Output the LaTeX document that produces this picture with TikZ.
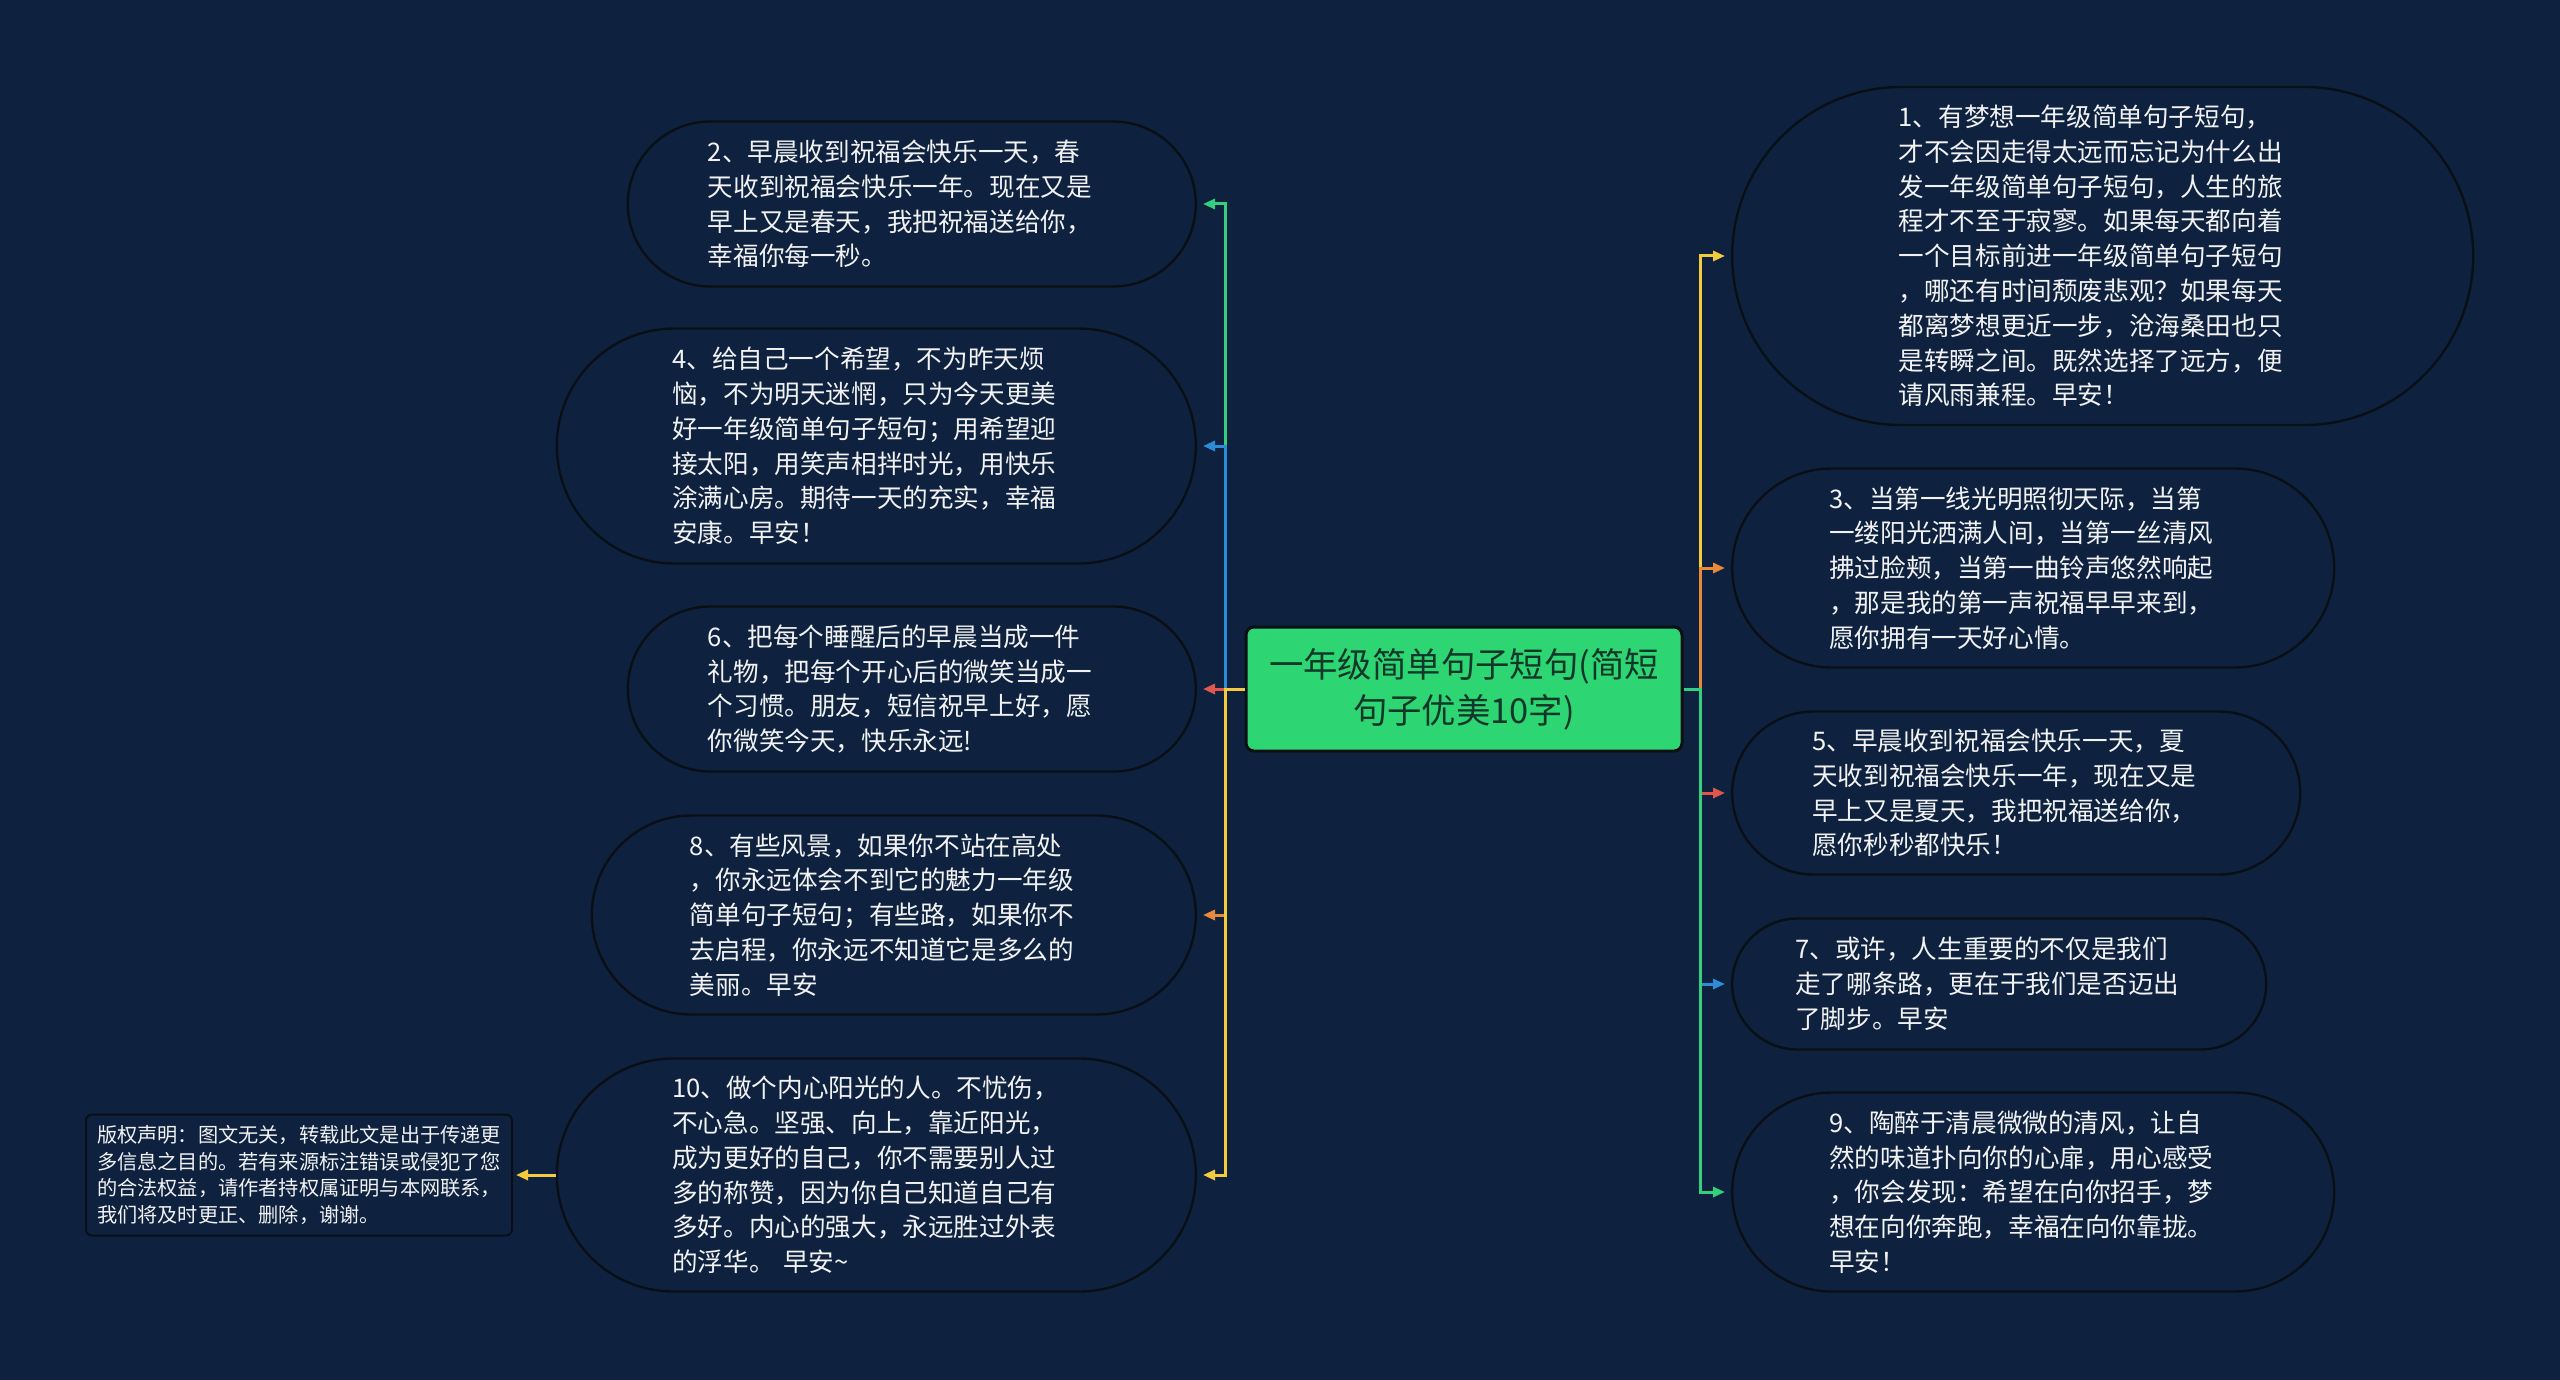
\documentclass[tikz,border=0pt]{standalone}
\usepackage{fontspec}
\setmainfont{Noto Sans CJK SC}
\usetikzlibrary{shapes.misc,arrows.meta}
\definecolor{fond}{HTML}{0E2240}
\definecolor{contour}{HTML}{0A0F16}
\definecolor{texte}{HTML}{F2F2F2}
\definecolor{vert}{HTML}{34CF7C}
\definecolor{bleu}{HTML}{2D8CD6}
\definecolor{rouge}{HTML}{E2574C}
\definecolor{orange}{HTML}{E9893A}
\definecolor{jaune}{HTML}{F4CB3C}
\definecolor{racinevert}{HTML}{2ED573}
\begin{document}
\begin{tikzpicture}[x=0.5pt, y=-0.5pt,
		idee/.style={rounded rectangle, draw=contour, line width=1.2pt, fill=fond, text=texte, align=left, text width=204pt, inner xsep=0pt, inner ysep=2pt, font=\fontsize{12.8}{17.4}\selectfont},
		racine/.style={rectangle, rounded corners=4pt, draw=contour, line width=1.5pt, fill=racinevert, text=contour!80!racinevert, align=center, minimum width=218pt, minimum height=62pt, font=\fontsize{17.2}{23}\selectfont},
		avis/.style={rectangle, rounded corners=3pt, draw=contour, line width=1pt, fill=fond, text=texte, align=left, minimum width=213pt, minimum height=60.5pt, font=\fontsize{10.1}{13.3}\selectfont},
		lien/.style={line width=1.5pt, -{Triangle[length=6pt,width=5pt]}, shorten >=3pt},
	]
		\fill[fond] (0,0) rectangle (2560,1380);
		\node[racine] (racine) at (1464,689) {一年级简单句子短句(简短\\句子优美10字)};
		\coordinate (gauche) at (1225,689);
		\coordinate (droite) at (1700,689);
		\node[idee, anchor=east, minimum width=284pt, minimum height=82.5pt] (i2) at (1197,204) {2、早晨收到祝福会快乐一天，春\\天收到祝福会快乐一年。现在又是\\早上又是春天，我把祝福送给你，\\幸福你每一秒。};
		\node[idee, anchor=east, minimum width=319.5pt, minimum height=117.5pt] (i4) at (1197,446) {4、给自己一个希望，不为昨天烦\\恼，不为明天迷惘，只为今天更美\\好一年级简单句子短句；用希望迎\\接太阳，用笑声相拌时光，用快乐\\涂满心房。期待一天的充实，幸福\\安康。早安！};
		\node[idee, anchor=east, minimum width=284pt, minimum height=82.5pt] (i6) at (1197,689) {6、把每个睡醒后的早晨当成一件\\礼物，把每个开心后的微笑当成一\\个习惯。朋友，短信祝早上好，愿\\你微笑今天，快乐永远!};
		\node[idee, anchor=east, minimum width=302pt, minimum height=99.5pt] (i8) at (1197,915) {8、有些风景，如果你不站在高处\\，你永远体会不到它的魅力一年级\\简单句子短句；有些路，如果你不\\去启程，你永远不知道它是多么的\\美丽。早安};
		\node[idee, anchor=east, minimum width=319.5pt, minimum height=116.5pt] (i10) at (1197,1175) {10、做个内心阳光的人。不忧伤，\\不心急。坚强、向上，靠近阳光，\\成为更好的自己，你不需要别人过\\多的称赞，因为你自己知道自己有\\多好。内心的强大，永远胜过外表\\的浮华。 早安\textasciitilde};
		\node[idee, anchor=west, minimum width=370.5pt, minimum height=169pt] (i1) at (1731,256) {1、有梦想一年级简单句子短句，\\才不会因走得太远而忘记为什么出\\发一年级简单句子短句，人生的旅\\程才不至于寂寥。如果每天都向着\\一个目标前进一年级简单句子短句\\，哪还有时间颓废悲观？如果每天\\都离梦想更近一步，沧海桑田也只\\是转瞬之间。既然选择了远方，便\\请风雨兼程。早安！};
		\node[idee, anchor=west, minimum width=301pt, minimum height=99.5pt] (i3) at (1731,568) {3、当第一线光明照彻天际，当第\\一缕阳光洒满人间，当第一丝清风\\拂过脸颊，当第一曲铃声悠然响起\\，那是我的第一声祝福早早来到，\\愿你拥有一天好心情。};
		\node[idee, anchor=west, minimum width=284pt, minimum height=81.5pt] (i5) at (1731,793) {5、早晨收到祝福会快乐一天，夏\\天收到祝福会快乐一年，现在又是\\早上又是夏天，我把祝福送给你，\\愿你秒秒都快乐！};
		\node[idee, anchor=west, minimum width=267pt, minimum height=65.5pt] (i7) at (1731,984) {7、或许，人生重要的不仅是我们\\走了哪条路，更在于我们是否迈出\\了脚步。早安};
		\node[idee, anchor=west, minimum width=301pt, minimum height=99.5pt] (i9) at (1731,1192) {9、陶醉于清晨微微的清风，让自\\然的味道扑向你的心扉，用心感受\\，你会发现：希望在向你招手，梦\\想在向你奔跑，幸福在向你靠拢。\\早安！};
		\node[avis, anchor=east] (avis) at (513,1175) {版权声明：图文无关，转载此文是出于传递更\\多信息之目的。若有来源标注错误或侵犯了您\\的合法权益，请作者持权属证明与本网联系，\\我们将及时更正、删除，谢谢。};
		\draw[lien, vert] (racine.west) -- (gauche) |- (i2.east);
		\draw[lien, bleu] (racine.west) -- (gauche) |- (i4.east);
		\draw[lien, rouge] (racine.west) -- (gauche) |- (i6.east);
		\draw[lien, orange] (racine.west) -- (gauche) |- (i8.east);
		\draw[lien, jaune] (racine.west) -- (gauche) |- (i10.east);
		\draw[lien, jaune] (racine.east) -- (droite) |- (i1.west);
		\draw[lien, orange] (racine.east) -- (droite) |- (i3.west);
		\draw[lien, rouge] (racine.east) -- (droite) |- (i5.west);
		\draw[lien, bleu] (racine.east) -- (droite) |- (i7.west);
		\draw[lien, vert] (racine.east) -- (droite) |- (i9.west);
		\draw[lien, jaune, shorten >=1.5pt] (i10.west) -- (avis.east);
\end{tikzpicture}
\end{document}
